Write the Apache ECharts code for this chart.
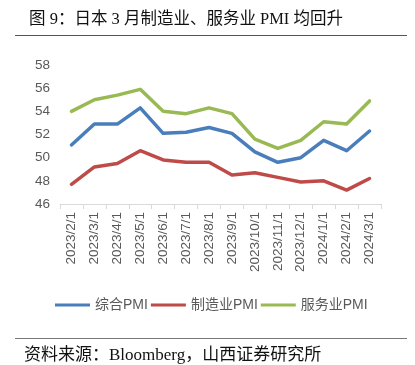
<!DOCTYPE html>
<html><head><meta charset="utf-8">
<script src="https://cdn.jsdelivr.net/npm/echarts@6/dist/echarts.min.js"></script>
<style>html,body{margin:0;padding:0;background:#fff}#c{width:415px;height:365px}</style>
</head><body><div id="c"></div>
<script>
const categories = ['2023/2/1','2023/3/1','2023/4/1','2023/5/1','2023/6/1','2023/7/1','2023/8/1','2023/9/1','2023/10/1','2023/11/1','2023/12/1','2024/1/1','2024/2/1','2024/3/1'];
const composite = [51.1,52.9,52.9,54.3,52.1,52.2,52.6,52.1,50.5,49.6,50.0,51.5,50.6,52.3];
const manufacturing = [47.7,49.2,49.5,50.6,49.8,49.6,49.6,48.5,48.7,48.3,47.9,48.0,47.2,48.2];
const services = [54.0,55.0,55.4,55.9,54.0,53.8,54.3,53.8,51.6,50.8,51.5,53.1,52.9,54.9];
const seriesNames = ['综合PMI','制造业PMI','服务业PMI'];
const colors = ['#4a7ebb','#be4b48','#98b954'];

const chart = echarts.init(document.getElementById('c'), null, {renderer:'canvas'});
const lbl = {color:'#595959', fontSize:13.5, fontFamily:'Liberation Sans, Arial, sans-serif'};
function mk(name, data, i){
  return {name, type:'line', data, symbol:'none', showSymbol:false, smooth:false,
    lineStyle:{width:3.5, color:colors[i], cap:'round', join:'round'}, itemStyle:{color:colors[i]}};
}
chart.setOption({
  animation:false,
  title:{text:'图 9：日本 3 月制造业、服务业 PMI 均回升', left:24, top:6,
    textStyle:{fontSize:16.5, fontWeight:'normal', color:'#111', fontFamily:'Liberation Serif, "Noto Sans CJK SC", serif'}},
  graphic:[
    {type:'line', shape:{x1:15,y1:35.5,x2:407,y2:35.5}, style:{stroke:'#555', lineWidth:1}},
    {type:'line', shape:{x1:15,y1:338.5,x2:407,y2:338.5}, style:{stroke:'#777', lineWidth:1.2}},
    {type:'text', left:24, top:347, style:{text:'资料来源：Bloomberg，山西证券研究所', fill:'#111',
      font:'17px "Liberation Serif", "Noto Sans CJK SC", serif'}}
  ],
  legend:{left:55, top:298, padding:0, itemGap:3, itemWidth:35, itemHeight:3, icon:'rect',
    textStyle:{color:'#595959', fontSize:14, fontFamily:'Liberation Sans, "Noto Sans CJK SC", sans-serif'},
    data:seriesNames},
  grid:{left:60, right:34, top:65, bottom:161, containLabel:false},
  xAxis:{type:'category', data:categories, boundaryGap:true,
    axisLine:{lineStyle:{color:'#d9d9d9', width:1}},
    axisTick:{show:true, length:5, lineStyle:{color:'#d9d9d9'}},
    axisLabel:Object.assign({rotate:90, margin:8, interval:0}, lbl)},
  yAxis:{type:'value', min:46, max:58, interval:2,
    axisLine:{show:false}, axisTick:{show:false}, splitLine:{show:false},
    axisLabel:Object.assign({margin:10}, lbl)},
  series:[mk(seriesNames[0],composite,0), mk(seriesNames[1],manufacturing,1), mk(seriesNames[2],services,2)]
});
</script></body></html>
